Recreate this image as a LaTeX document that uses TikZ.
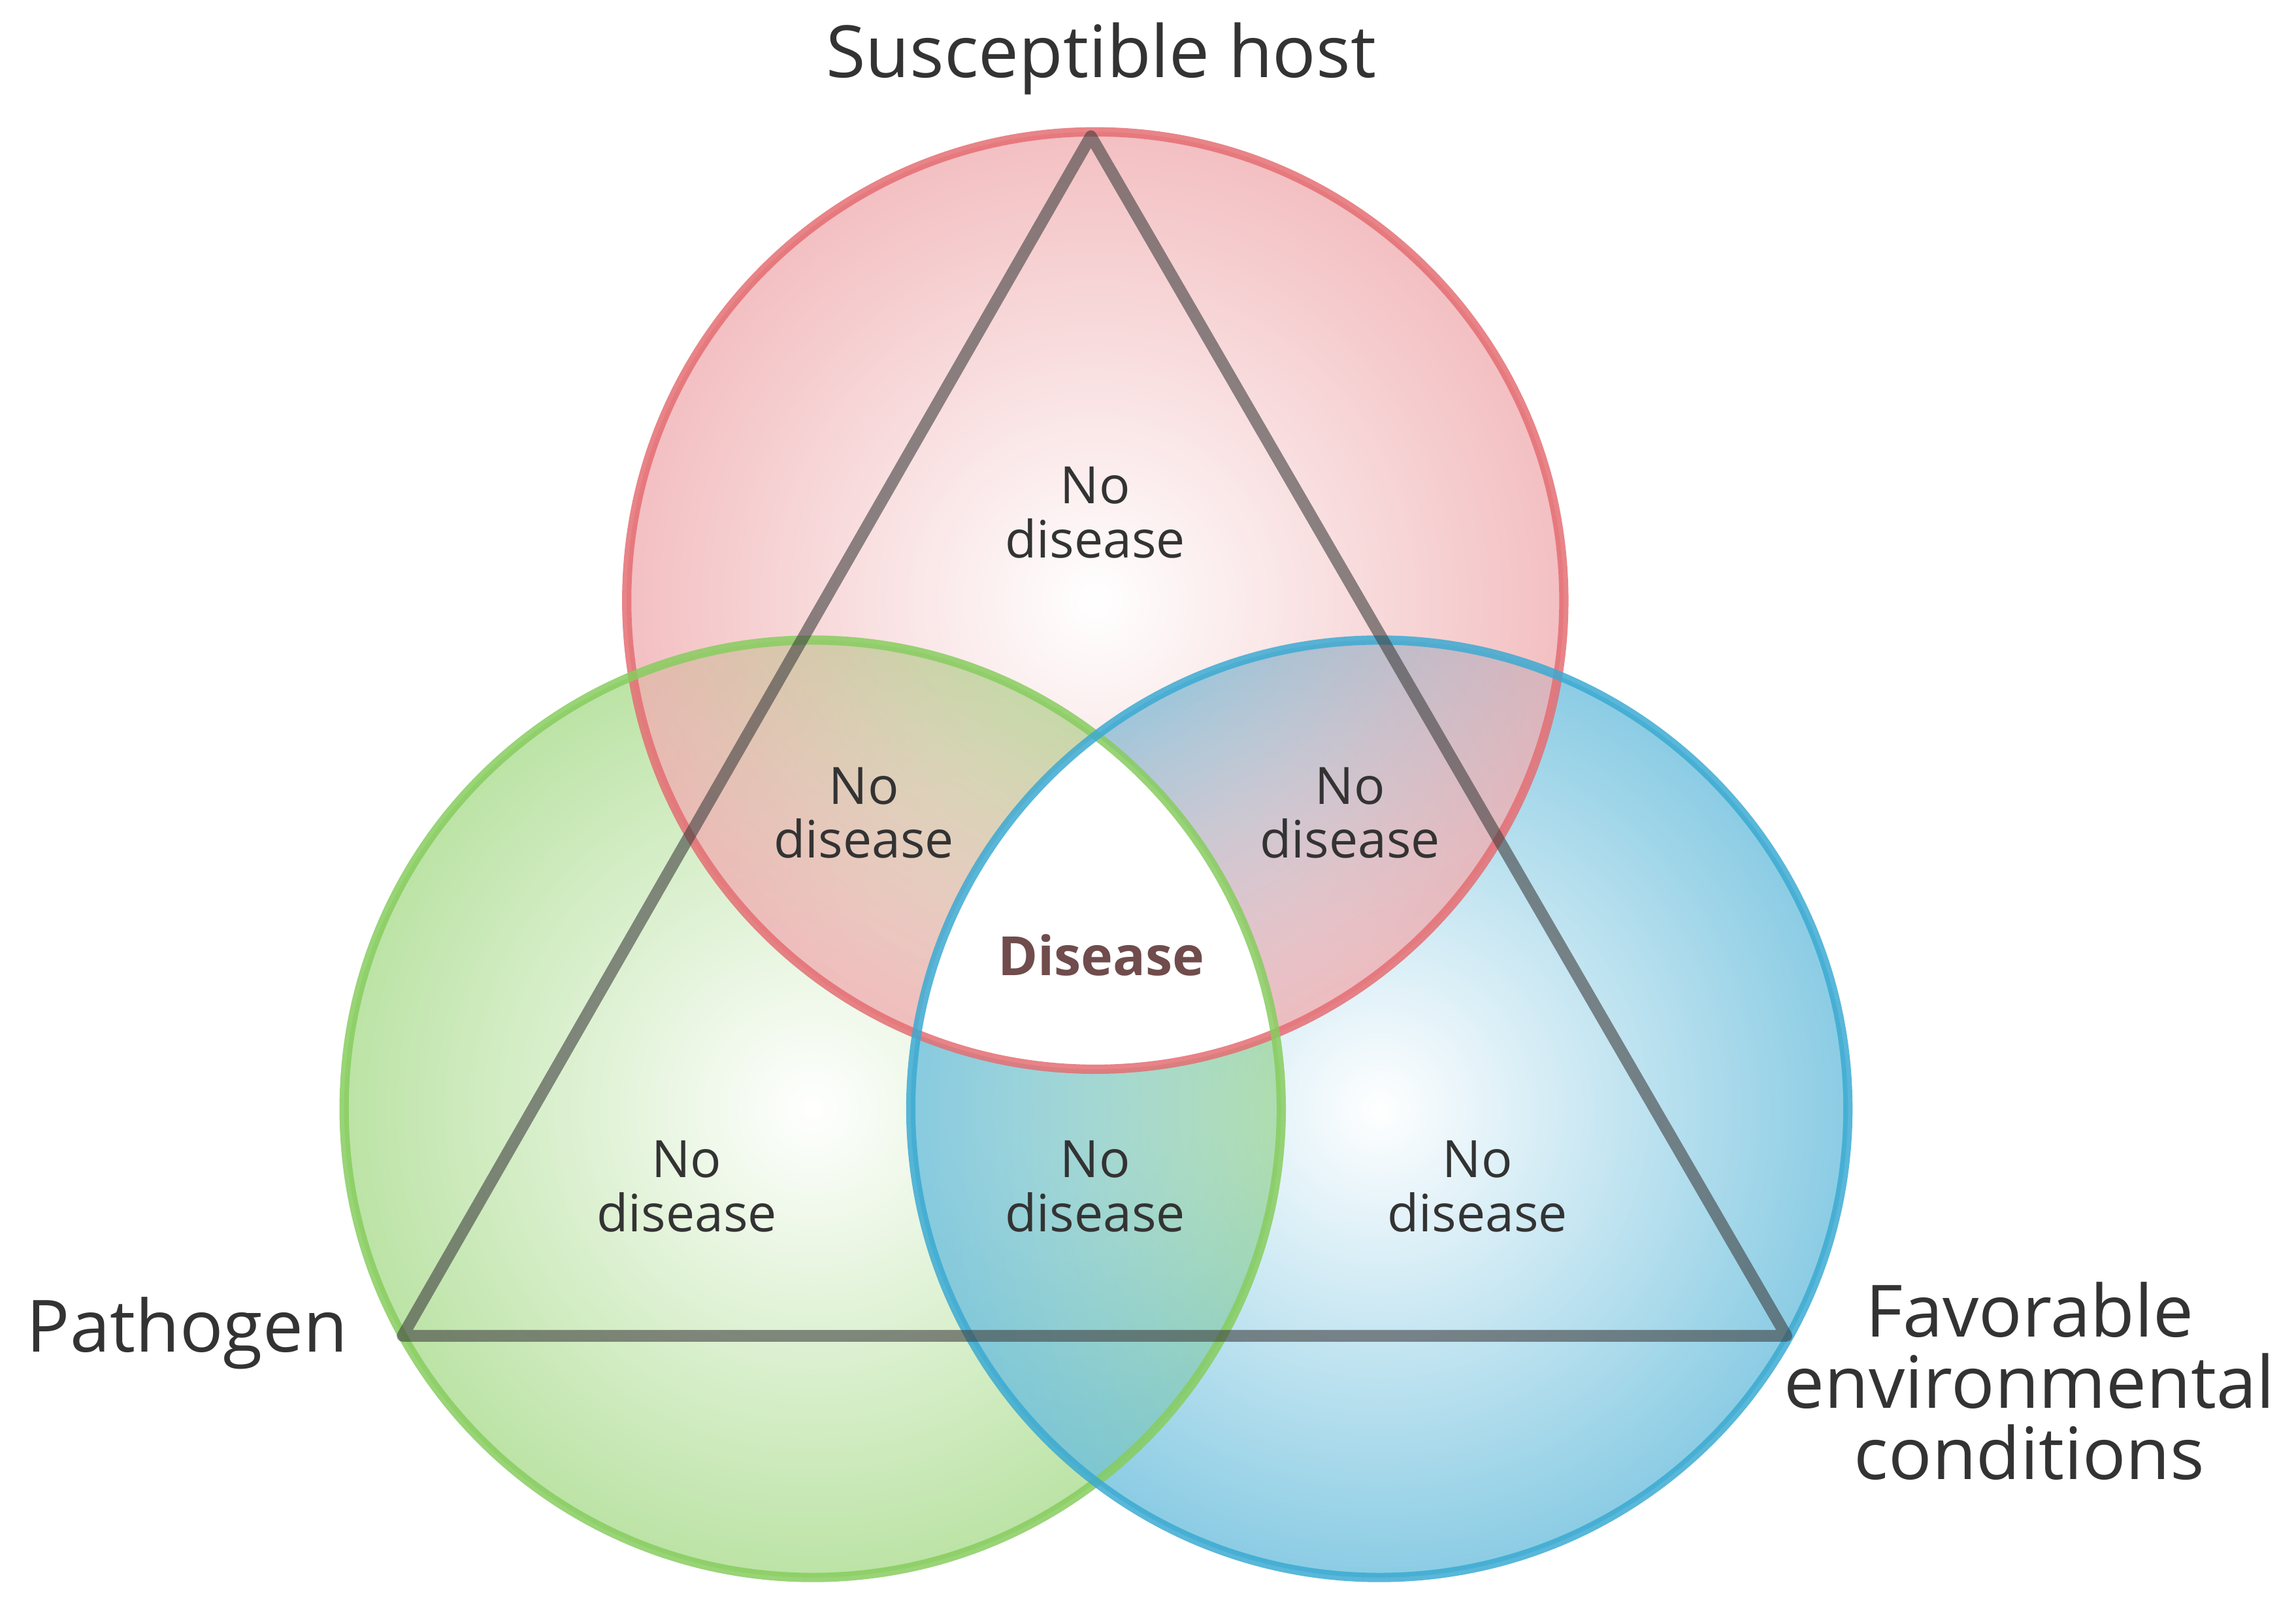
\documentclass[tikz,border=0pt]{standalone}
\usepackage{fontspec}
\setmainfont{Open Sans}
\usetikzlibrary{fadings}
\tikzfading[name=ringfade, inner color=transparent!100, outer color=transparent!0]
\begin{document}
\begin{tikzpicture}[x=0.01cm,y=-0.01cm,
  lbl/.style={align=center,font=\fontsize{10}{10.5}\selectfont,text=black!80},
  big/.style={align=center,font=\fontsize{14}{14}\selectfont,text=black!80}]
\useasboundingbox (0,0) rectangle (1568,1091);
\definecolor{rs}{RGB}{228,110,115}
\definecolor{gs}{RGB}{135,205,95}
\definecolor{bs}{RGB}{60,170,210}
\coordinate (cr) at (748,410);
\coordinate (cg) at (555,757);
\coordinate (cb) at (942,757);
\fill[gs!70,path fading=ringfade,fill opacity=0.8] (cg) circle (320);
\fill[bs!75,path fading=ringfade,fill opacity=0.8] (cb) circle (320);
\fill[rs!55,path fading=ringfade,fill opacity=0.8] (cr) circle (320);
\begin{scope}
\clip (cr) circle (320); \clip (cg) circle (320);
\fill[white] (cb) circle (320);
\end{scope}
\draw[rs,line width=1.8pt,opacity=0.85] (cr) circle (320);
\draw[gs,line width=1.8pt,opacity=0.85] (cg) circle (320);
\draw[bs,line width=1.8pt,opacity=0.85] (cb) circle (320);
\coordinate (t) at (745,93);
\coordinate (l) at (275,912);
\coordinate (r) at (1220,912);
\draw[black!75,line width=2.3pt,opacity=0.6,line join=round] (t) -- (l) -- (r) -- cycle;
\node[big] (h) at (752,40) {Susceptible host};
\node[big,anchor=east,inner sep=0pt] (p) at (238,910) {Pathogen};
\node[big,font=\fontsize{14}{13.8}\selectfont,inner sep=0pt] (f) at (1386,943) {Favorable\\environmental\\conditions};
\node[lbl] (n1) at (748,350) {No\\disease};
\node[lbl] (n2) at (590,555) {No\\disease};
\node[lbl] (n3) at (922,555) {No\\disease};
\node[lbl] (n4) at (469,810) {No\\disease};
\node[lbl] (n5) at (748,810) {No\\disease};
\node[lbl] (n6) at (1009,810) {No\\disease};
\node[font=\fontsize{10.5}{11}\selectfont\bfseries,text=red!20!black!70] (d) at (752,652) {Disease};
\end{tikzpicture}
\end{document}
